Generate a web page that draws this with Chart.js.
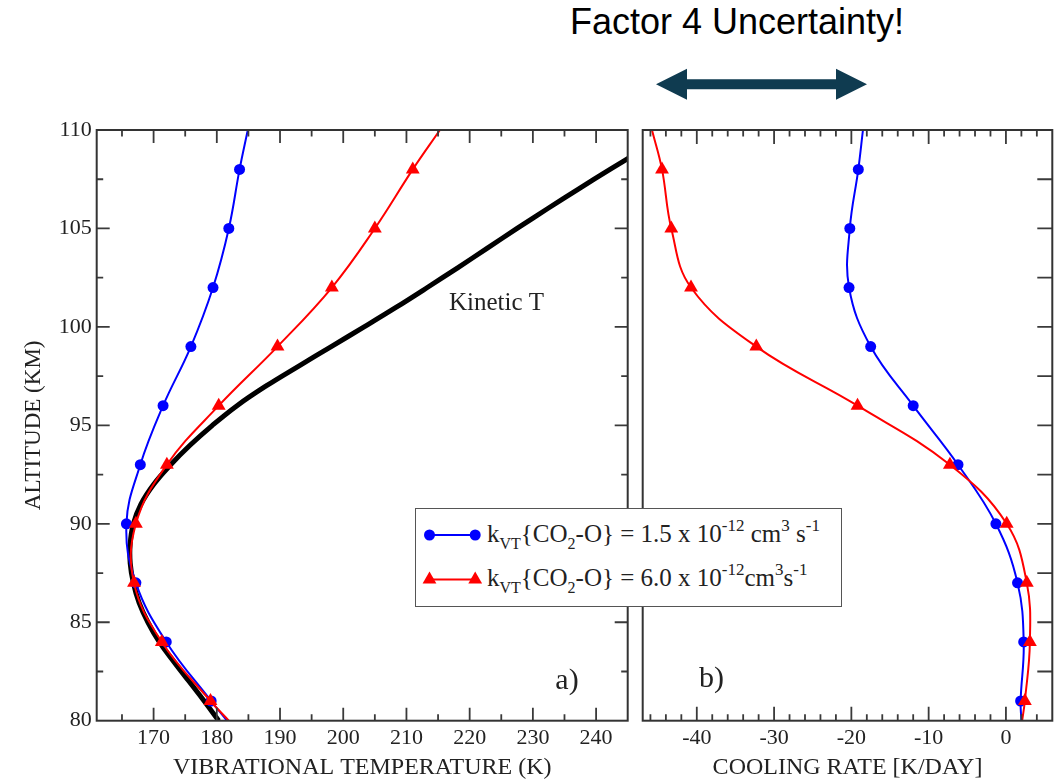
<!DOCTYPE html>
<html>
<head>
<meta charset="utf-8">
<script src="https://cdn.jsdelivr.net/npm/chart.js@4.4.1/dist/chart.umd.min.js"></script>
<style>
    html, body { margin: 0; padding: 0; background: #fff; }
    #pagina { position: relative; width: 1064px; height: 782px; overflow: hidden; }
    #titolo { position: absolute; left: 537px; top: 4px; width: 400px; text-align: center;
        font: 36px/36px "Liberation Sans", Arial, sans-serif; color: #000; white-space: nowrap; }
    #freccia { position: absolute; left: 0; top: 0; }
    #graficoA { position: absolute; left: 0; top: 0; }
    #graficoB { position: absolute; left: 635px; top: 0; }
    #legenda { position: absolute; left: 415px; top: 508px; width: 427px; height: 99px; box-sizing: border-box;
        border: 1.5px solid #555; background: #fff; z-index: 2;
        font-family: "Liberation Serif", "Times New Roman", serif; font-size: 25px; color: #222; }
    #legenda .riga { position: absolute; left: 71px; line-height: 25px; white-space: nowrap; }
    #legenda .pedice { font-size: 16px; position: relative; top: 7px; line-height: 0; }
    #legenda .apice { font-size: 17px; position: relative; top: -11px; line-height: 0; }
    #legenda svg { position: absolute; left: 0; top: 0; }
</style>
</head>
<body>
<div id="pagina">
    <div id="titolo">Factor 4 Uncertainty!</div>
    <svg id="freccia" width="1064" height="120">
        <polygon fill="#0f3b50" points="656,84.3 687,68.8 687,79.3 836,79.3 836,68.8 867,84.3 836,99.8 836,89.3 687,89.3 687,99.8"/>
    </svg>
    <canvas id="graficoA" width="635" height="782"></canvas>
    <canvas id="graficoB" width="429" height="782"></canvas>
    <div id="legenda">
        <svg width="70" height="96">
            <line x1="13.5" y1="26" x2="59.2" y2="26" stroke="#0000ff" stroke-width="2"/>
            <circle cx="13.5" cy="26" r="5.5" fill="#0000ff"/>
            <circle cx="59.2" cy="26" r="5.5" fill="#0000ff"/>
            <line x1="13.5" y1="70.5" x2="59.2" y2="70.5" stroke="#ff0000" stroke-width="2"/>
            <polygon fill="#ff0000" points="13.5,62.5 20.4,74.5 6.6,74.5"/>
            <polygon fill="#ff0000" points="59.2,62.5 66.1,74.5 52.3,74.5"/>
        </svg>
        <div class="riga" style="top:12px">k<span class="pedice">VT</span>{CO<span class="pedice">2</span>-O} = 1.5 x 10<span class="apice">-12</span> cm<span class="apice">3</span> s<span class="apice">-1</span></div>
        <div class="riga" style="top:56px">k<span class="pedice">VT</span>{CO<span class="pedice">2</span>-O} = 6.0 x 10<span class="apice">-12</span>cm<span class="apice">3</span>s<span class="apice">-1</span></div>
    </div>
</div>
<script>
// quote (km) dei profili con i marcatori, estremi 80 e 110 senza marcatore
const altitudini = [80, 81, 84, 87, 90, 93, 96, 99, 102, 105, 108, 110];
// temperatura vibrazionale (K)
const tvibBasso = [181.6, 179.1, 172.0, 167.2, 165.7, 167.9, 171.5, 175.9, 179.4, 181.9, 183.6, 184.9];
const tvibAlto = [181.9, 179.0, 171.3, 166.9, 167.2, 172.1, 180.3, 189.6, 198.2, 205.0, 211.0, 215.3];
// temperatura cinetica
const altCinetica = [80, 81, 82, 83, 84, 85, 86, 87, 88, 89, 90, 91, 92, 93, 94, 95, 96, 97, 98, 99, 100, 101, 102, 103, 104, 105, 106, 107, 108, 109];
const tCinetica = [180.3, 178.0, 175.6, 173.2, 170.9, 169.1, 167.7, 166.8, 166.3, 166.3, 166.8, 168.0, 170.0, 172.7, 175.8, 179.3, 183.2, 187.8, 192.9, 198.1, 203.3, 208.4, 213.3, 218.1, 222.8, 227.5, 232.3, 237.2, 242.2, 247.3];
// tasso di raffreddamento (K/giorno)
const raffBasso = [2.0, 1.9, 2.3, 1.5, -1.3, -6.2, -12.0, -17.5, -20.3, -20.2, -19.1, -18.5];
const raffAlto = [2.1, 2.45, 3.1, 2.7, 0.1, -7.25, -19.2, -32.3, -40.75, -43.3, -44.5, -45.8];

const tickAltitudine = [80, 85, 90, 95, 100, 105, 110];
const tickTemperatura = [170, 180, 190, 200, 210, 220, 230, 240];
const tickRaffreddamento = [-40, -30, -20, -10, 0];

const fontSerif = '"Liberation Serif", "Times New Roman", serif';
const blu = '#0000ff';
const rosso = '#ff0000';

function punti(xs, ys) {
    return xs.map((v, i) => ({ x: v, y: ys[i] }));
}

// niente marcatore sugli estremi della curva
function marcatori(raggio) {
    return altitudini.map((a, i) => (i === 0 || i === altitudini.length - 1) ? 0 : raggio);
}

function serie(valori, colore, stile, raggio) {
    return {
        data: punti(valori, altitudini),
        borderColor: colore,
        backgroundColor: colore,
        borderWidth: 2,
        showLine: true,
        tension: 0.4,
        pointStyle: stile,
        pointRadius: marcatori(raggio),
        pointBorderWidth: 0
    };
}

// tacche rivolte verso l'interno + cornice
function creaTacche(spec) {
    return {
        id: 'tacche',
        afterDraw(chart) {
            const ctx = chart.ctx;
            const a = chart.chartArea;
            const sx = chart.scales.x;
            const sy = chart.scales.y;
            ctx.save();
            ctx.strokeStyle = '#3a3a3a';
            ctx.lineWidth = 1.8;
            ctx.beginPath();
            spec.orizz.forEach(t => {
                const px = sx.getPixelForValue(t[0]);
                ctx.moveTo(px, a.bottom);
                ctx.lineTo(px, a.bottom - t[1]);
                ctx.moveTo(px, a.top);
                ctx.lineTo(px, a.top + t[1]);
            });
            spec.sinistra.forEach(t => {
                const py = sy.getPixelForValue(t[0]);
                ctx.moveTo(a.left, py);
                ctx.lineTo(a.left + t[1], py);
            });
            spec.destra.forEach(t => {
                const py = sy.getPixelForValue(t[0]);
                ctx.moveTo(a.right, py);
                ctx.lineTo(a.right - t[1], py);
            });
            ctx.stroke();
            ctx.strokeStyle = '#333';
            ctx.lineWidth = 2;
            ctx.strokeRect(a.left, a.top, a.right - a.left, a.bottom - a.top);
            ctx.restore();
        }
    };
}

function creaEtichette(lista) {
    return {
        id: 'etichette',
        afterDatasetsDraw(chart) {
            const { ctx, scales: { x, y } } = chart;
            ctx.save();
            ctx.fillStyle = '#222';
            ctx.textAlign = 'center';
            ctx.textBaseline = 'middle';
            lista.forEach(e => {
                ctx.font = e.dim + 'px ' + fontSerif;
                ctx.fillText(e.testo, x.getPixelForValue(e.x), y.getPixelForValue(e.y));
            });
            ctx.restore();
        }
    };
}

function asseX(min, max, valori, titolo) {
    return {
        type: 'linear', min, max,
        grid: { display: false, drawTicks: false },
        border: { display: false },
        afterBuildTicks: s => { s.ticks = valori.map(v => ({ value: v })); },
        afterFit: s => { s.height = 61.3; },
        ticks: { font: { family: fontSerif, size: 22 }, color: '#222', padding: 4, maxRotation: 0, autoSkip: false, callback: v => String(v) },
        title: { display: true, text: titolo, color: '#222', font: { family: fontSerif, size: 24, lineHeight: 1 }, padding: { top: 0, bottom: 2 } }
    };
}

const passiY = [];
for (let v = 82.5; v < 110; v += 2.5) passiY.push(v);

const taccheA = { orizz: [], sinistra: [], destra: [] };
for (let v = 165; v < 245; v += 5) taccheA.orizz.push([v, v % 10 === 0 ? 13 : 6.5]);
passiY.forEach(v => {
    const l = v % 5 === 0 ? 13 : 6.5;
    taccheA.sinistra.push([v, l]);
    taccheA.destra.push([v, l]);
});

const taccheB = { orizz: [], sinistra: [], destra: [] };
for (let v = -46; v < 6; v += 2) taccheB.orizz.push([v, v % 10 === 0 ? 14 : 6.5]);
passiY.forEach(v => taccheB.destra.push([v, 15]));

new Chart(document.getElementById('graficoA'), {
    type: 'scatter',
    data: {
        datasets: [
            serie(tvibAlto, rosso, 'triangle', 8),
            serie(tvibBasso, blu, 'circle', 5.5),
            {
                data: punti(tCinetica, altCinetica),
                borderColor: '#000',
                borderWidth: 5,
                showLine: true,
                tension: 0.4,
                pointRadius: 0
            }
        ]
    },
    options: {
        responsive: false,
        animation: false,
        layout: { padding: { top: 130, right: 7.3, bottom: 0, left: 0 } },
        plugins: { legend: { display: false }, tooltip: { enabled: false } },
        scales: {
            x: asseX(161, 245, tickTemperatura, 'VIBRATIONAL TEMPERATURE (K)'),
            y: {
                type: 'linear', min: 80, max: 110,
                grid: { display: false, drawTicks: false },
                border: { display: false },
                afterBuildTicks: s => { s.ticks = tickAltitudine.map(v => ({ value: v })); },
                afterFit: s => { s.width = 96.7; },
                ticks: { font: { family: fontSerif, size: 22 }, color: '#222', padding: 5, callback: v => String(v) },
                title: { display: true, text: 'ALTITUDE (KM)', color: '#222', font: { family: fontSerif, size: 23, lineHeight: 1 }, padding: { top: 22, bottom: 0 } }
            }
        }
    },
    plugins: [
        creaTacche(taccheA),
        creaEtichette([
            { testo: 'Kinetic T', x: 224.25, y: 101.2, dim: 25 },
            { testo: 'a)', x: 235.4, y: 82.0, dim: 30 }
        ])
    ]
});

new Chart(document.getElementById('graficoB'), {
    type: 'scatter',
    data: {
        datasets: [
            serie(raffAlto, rosso, 'triangle', 8),
            serie(raffBasso, blu, 'circle', 5.5)
        ]
    },
    options: {
        responsive: false,
        animation: false,
        layout: { padding: { top: 130, right: 11.7, bottom: 0, left: 7.7 } },
        plugins: { legend: { display: false }, tooltip: { enabled: false } },
        scales: {
            x: asseX(-47, 6, tickRaffreddamento, 'COOLING RATE [K/DAY]'),
            y: { type: 'linear', min: 80, max: 110, display: false }
        }
    },
    plugins: [
        creaTacche(taccheB),
        creaEtichette([{ testo: 'b)', x: -38.1, y: 82.1, dim: 30 }])
    ]
});
</script>
</body>
</html>
